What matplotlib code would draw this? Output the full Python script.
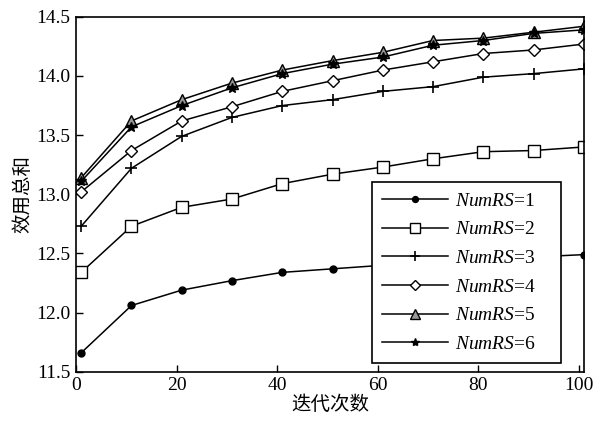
import matplotlib
matplotlib.use('Agg')
import matplotlib.pyplot as plt

plt.rcParams['font.family'] = ['Liberation Serif', 'Noto Sans CJK SC']
plt.rcParams['mathtext.fontset'] = 'custom'
plt.rcParams['mathtext.it'] = 'Liberation Serif:italic'
plt.rcParams['mathtext.rm'] = 'Liberation Serif'

iterations = [1, 11, 21, 31, 41, 51, 61, 71, 81, 91, 101]

num_rs_1 = [11.66, 12.06, 12.19, 12.27, 12.34, 12.37, 12.40, 12.42, 12.44, 12.47, 12.49]
num_rs_2 = [12.34, 12.73, 12.89, 12.96, 13.09, 13.17, 13.23, 13.30, 13.36, 13.37, 13.40]
num_rs_3 = [12.73, 13.22, 13.49, 13.65, 13.75, 13.80, 13.87, 13.91, 13.99, 14.02, 14.06]
num_rs_4 = [13.02, 13.37, 13.62, 13.74, 13.87, 13.96, 14.05, 14.12, 14.19, 14.22, 14.27]
num_rs_5 = [13.14, 13.62, 13.80, 13.94, 14.05, 14.13, 14.20, 14.30, 14.32, 14.37, 14.42]
num_rs_6 = [13.11, 13.57, 13.75, 13.90, 14.02, 14.10, 14.16, 14.26, 14.30, 14.36, 14.39]

labels = ['$NumRS$=1', '$NumRS$=2', '$NumRS$=3', '$NumRS$=4', '$NumRS$=5', '$NumRS$=6']
series = [num_rs_1, num_rs_2, num_rs_3, num_rs_4, num_rs_5, num_rs_6]

LINES_PARAMS = (
    {'marker': 'o', 'markersize': 5, 'markerfacecolor': 'black'},
    {'marker': 's', 'markersize': 8, 'markerfacecolor': 'white'},
    {'marker': '+', 'markersize': 9, 'markeredgewidth': 1.2},
    {'marker': 'D', 'markersize': 6.5, 'markerfacecolor': 'white'},
    {'marker': '^', 'markersize': 8, 'markerfacecolor': '0.6'},
    {'marker': '*', 'markersize': 7, 'markerfacecolor': 'black'},
)

fig = plt.figure(figsize=(6.0, 4.21), dpi=100)
ax = fig.add_axes([0.127, 0.117, 0.846, 0.843])

for label, values, params in zip(labels, series, LINES_PARAMS):
    ax.plot(iterations, values, color='black', linewidth=1.1,
            markeredgecolor='black', label=label, **params)

ax.set_xlim(0, 101)
ax.set_ylim(11.5, 14.5)
ax.set_xticks([0, 20, 40, 60, 80, 100])
ax.set_yticks([11.5, 12.0, 12.5, 13.0, 13.5, 14.0, 14.5])
ax.set_yticklabels(['11.5', '12.0', '12.5', '13.0', '13.5', '14.0', '14.5'])
ax.tick_params(direction='in', labelsize=14, width=1, length=5, pad=4)
for spine in ax.spines.values():
    spine.set_linewidth(1.2)

ax.set_xlabel('迭代次数', fontsize=14, family=['Noto Sans CJK SC'], labelpad=0)
ax.set_ylabel('效用总和', fontsize=14, family=['Noto Sans CJK SC'], labelpad=2)

leg = ax.legend(loc='lower left', bbox_to_anchor=(0.583, 0.025, 0.373, 0.515),
                mode='expand', borderaxespad=0, fontsize=14, markerscale=0.85,
                frameon=True, fancybox=False, edgecolor='black', framealpha=1,
                handlelength=3.4, labelspacing=0.57, borderpad=0.5, handletextpad=0.35)
leg.get_frame().set_linewidth(1.2)

fig.savefig('out.png', dpi=100)
